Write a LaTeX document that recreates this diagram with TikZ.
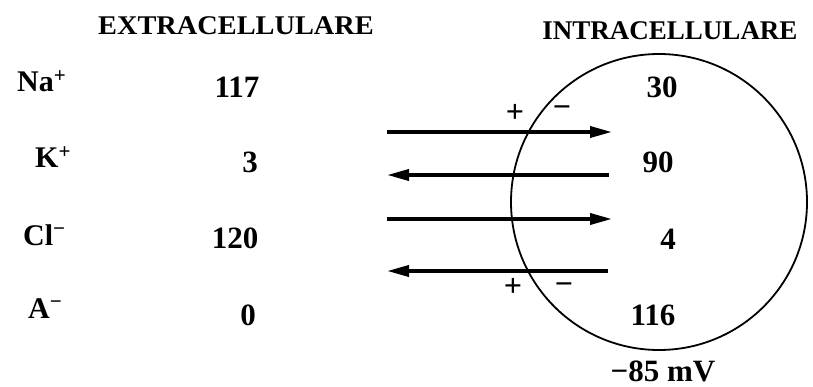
\documentclass[tikz,border=0pt]{standalone}
\usepackage{fontspec}
\setmainfont{Liberation Serif}
\usetikzlibrary{arrows.meta}
\begin{document}
\begin{tikzpicture}[x=1pt,y=1pt,
  head/.style={font=\bfseries\fontsize{27}{30}\selectfont, anchor=base, inner sep=0pt},
  ion/.style={font=\bfseries\fontsize{30}{32}\selectfont, anchor=base west, inner sep=0pt},
  num/.style={font=\bfseries\fontsize{31}{34}\selectfont, anchor=base, inner sep=0pt},
  sgn/.style={font=\bfseries\fontsize{32}{34}\selectfont, inner sep=0pt},
  flux/.style={line width=3.6pt, -{Triangle[length=22pt,width=11pt]}}]
\useasboundingbox (0,0) rectangle (813,-387);
% headings
\node[head] (ext) at (236,-35) {\scalebox{1.05}[1]{EXTRACELLULARE}};
\node[head] (int) at (670,-40) {INTRACELLULARE};
% ions
\node[ion] (na) at (17,-92) {Na\textsuperscript{+}};
\node[ion] (k) at (35,-168) {K\textsuperscript{+}};
\node[ion] (cl) at (23,-245) {Cl\textsuperscript{−}};
\node[ion] (a) at (28,-318) {A\textsuperscript{−}};
% extracellular values
\node[num] (e1) at (237,-98) {117};
\node[num] (e2) at (250,-173) {3};
\node[num] (e3) at (235,-248) {120};
\node[num] (e4) at (248,-325) {0};
% cell
\node[draw, line width=1.8pt, circle, minimum size=296pt, inner sep=0pt] (cell) at (659,-202) {};
\node[num] (i1) at (662,-98) {30};
\node[num] (i2) at (658,-173) {90};
\node[num] (i3) at (668,-250) {4};
\node[num] (i4) at (653,-325) {116};
\node[num] (mv) at (663,-381) {−85 mV};
% membrane charges
\node[sgn] (p1) at (515,-113) {+};
\node[sgn] (m1) at (562,-112) {−};
\node[sgn] (p2) at (513,-287) {+};
\node[sgn] (m2) at (564,-289) {−};
% arrow endpoints
\coordinate (a1l) at (387,-132); \coordinate (a1r) at (612,-132);
\coordinate (a2l) at (387,-175); \coordinate (a2r) at (609,-175);
\coordinate (a3l) at (387,-219); \coordinate (a3r) at (612,-219);
\coordinate (a4l) at (387,-271); \coordinate (a4r) at (608,-271);
\draw[flux] (a1l) -- (a1r);
\draw[flux] (a2r) -- (a2l);
\draw[flux] (a3l) -- (a3r);
\draw[flux] (a4r) -- (a4l);
\end{tikzpicture}
\end{document}
